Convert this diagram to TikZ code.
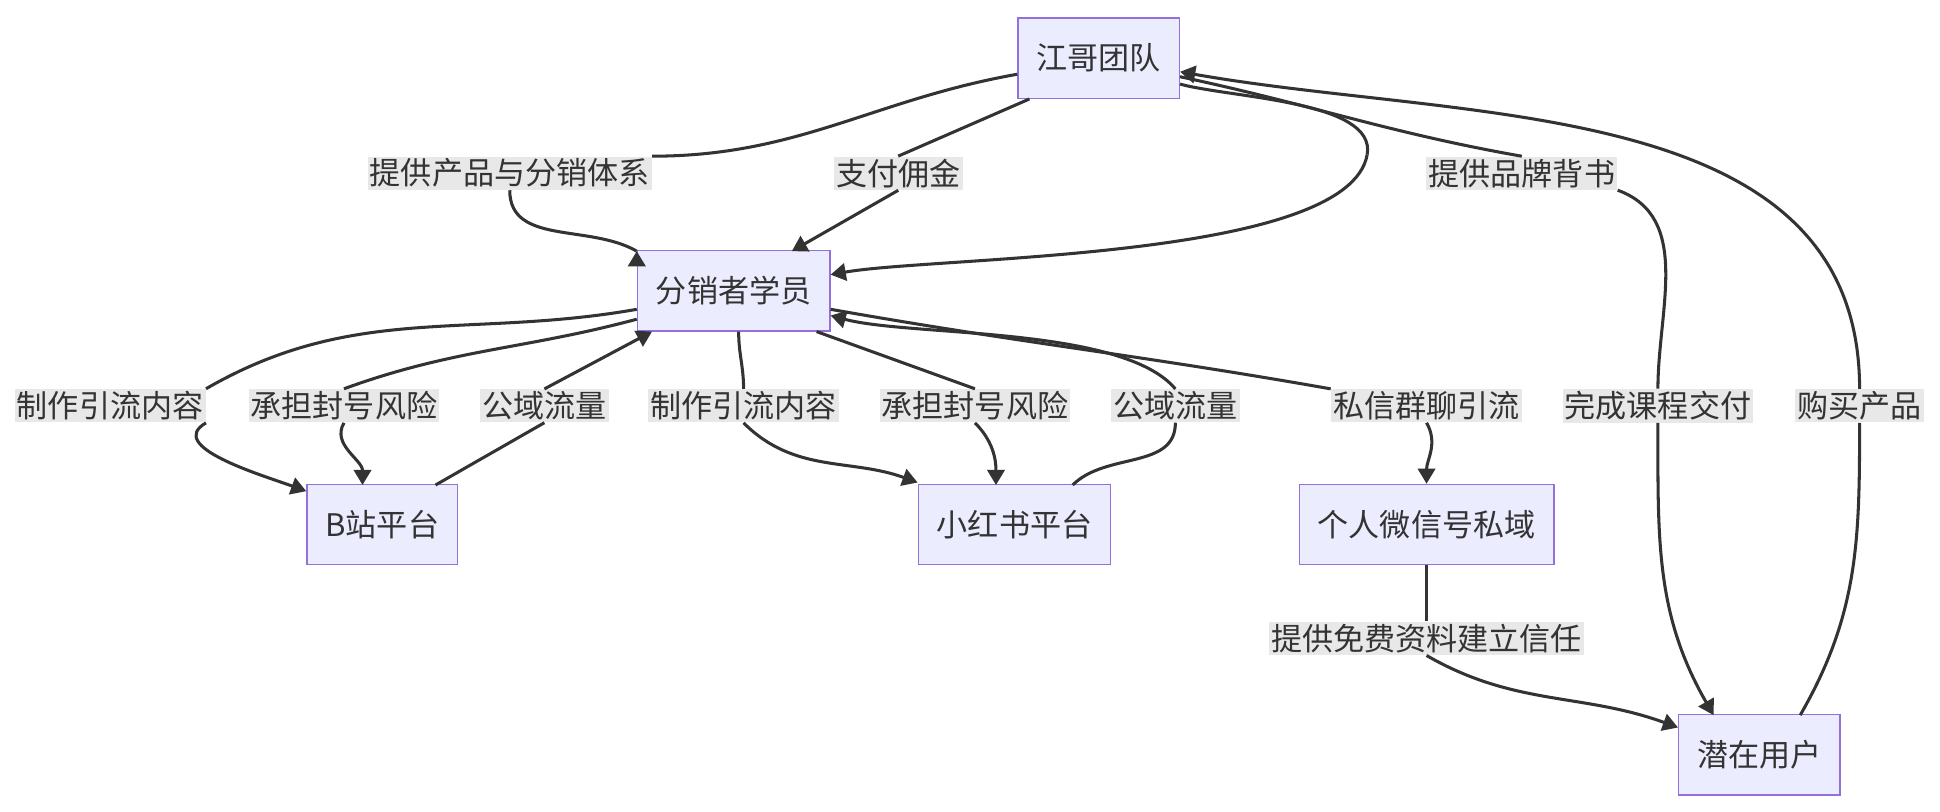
\documentclass[tikz,border=0pt]{standalone}
\usepackage{fontspec}
\setmainfont{Noto Sans CJK SC}
\usetikzlibrary{arrows.meta}
\definecolor{boxfill}{HTML}{ECECFF}
\definecolor{boxline}{HTML}{9370DB}
\definecolor{edge}{HTML}{333333}
\definecolor{lblbg}{HTML}{E8E8E8}
\tikzset{
  box/.style={draw=boxline, fill=boxfill, line width=0.6pt, minimum height=1.3cm, inner xsep=0.3cm, font=\fontsize{14.3}{16}\selectfont, text=edge},
  lbl/.style={fill=lblbg, inner sep=1pt, font=\fontsize{14.3}{16}\selectfont, text=edge},
  link/.style={draw=edge, line width=1.4pt, -{Triangle[length=7pt,width=8pt]}},
  plain/.style={draw=edge, line width=1.4pt}
}
\begin{document}
\begin{tikzpicture}[x=0.02cm, y=-0.02cm]

\useasboundingbox (0,0) rectangle (1568,656);

% nodes
\node[box, minimum width=2.54cm] (team) at (888,47) {江哥团队};
\node[box, minimum width=3.06cm] (dist) at (593,235) {分销者学员};
\node[box, minimum width=2.34cm] (bili) at (309,424) {B站平台};
\node[box, minimum width=3.08cm] (xhs) at (820,424) {小红书平台};
\node[box, minimum width=4.1cm] (wx) at (1153,424) {个人微信号私域};
\node[box, minimum width=2.56cm] (user) at (1422,610) {潜在用户};

% labels
\node[lbl] (l1) at (412,140) {提供产品与分销体系};
\node[lbl] (l2) at (726,140) {支付佣金};
\node[lbl] (l3) at (1230,140) {提供品牌背书};
\node[lbl] (l4) at (89,328) {制作引流内容};
\node[lbl] (l5) at (278,328) {承担封号风险};
\node[lbl] (l6) at (440,328) {公域流量};
\node[lbl] (l7) at (601,328) {制作引流内容};
\node[lbl] (l8) at (788,328) {承担封号风险};
\node[lbl] (l9) at (950,328) {公域流量};
\node[lbl] (l10) at (1153,328) {私信群聊引流};
\node[lbl] (l11) at (1340,328) {完成课程交付};
\node[lbl] (l12) at (1503,328) {购买产品};
\node[lbl] (l13) at (1153,516) {提供免费资料建立信任};

\coordinate (bend) at (1105,125);

% team to students
\draw[plain] (team.west|-0,60) to[out=190,in=0] (l1.north east);
\draw[link] (l1.south) to[out=-90,in=150] (dist.north west|-0,203) ++(0,0);
\draw[plain] (832,80) -- (l2.north);
\draw[link] (l2.south) -- (640,203);
\draw[plain] (team.east|-0,68) to[out=-15,in=80,looseness=0.7] (bend);
\draw[link] (bend) to[out=-100,in=10,looseness=0.5] (dist.east|-0,222);

% team and users
\draw[plain] (team.east|-0,62) to[out=-12,in=170] (l3.north);
\draw[plain] (l3.south east) to[out=-20,in=90] (l11.north);
\draw[link] (l11.south) to[out=-90,in=120] (1385,578);
\draw[plain] (1455,578) to[out=60,in=-90] (l12.south);
\draw[link] (l12.north) to[out=90,in=-10] (team.east|-0,58);

% students and platforms
\draw[plain] (dist.west|-0,250) to[out=190,in=30] (l4.north east);
\draw[link] (l4.south east) to[out=-150,in=160] (bili.west|-0,397);
\draw[plain] (dist.west|-0,258) to[out=195,in=20] (l5.north);
\draw[link] (l5.south) to[out=-120,in=90] (293,392);
\draw[plain] (352,392) -- (l6.south);
\draw[link] (l6.north) -- (527,268);
\draw[plain] (597,268) to[out=-90,in=90] (l7.north);
\draw[link] (l7.south) to[out=-45,in=160] (xhs.west|-0,390);
\draw[plain] (660,268) -- (l8.north);
\draw[link] (l8.south) to[out=-45,in=90] (805,392);
\draw[plain] (867,392) to[out=45,in=-90] (l9.south);
\draw[link] (l9.north) to[out=130,in=-15,looseness=0.6] (dist.east|-0,255);
\draw[plain] (dist.east|-0,250) to[out=-10,in=170] (l10.north west);
\draw[link] (l10.south) to[out=-60,in=90] (wx.north);

% wechat to users
\draw[plain] (wx.south) -- (l13.north);
\draw[link] (l13.south) to[out=-30,in=160] (user.west|-0,588);

\end{tikzpicture}
\end{document}
